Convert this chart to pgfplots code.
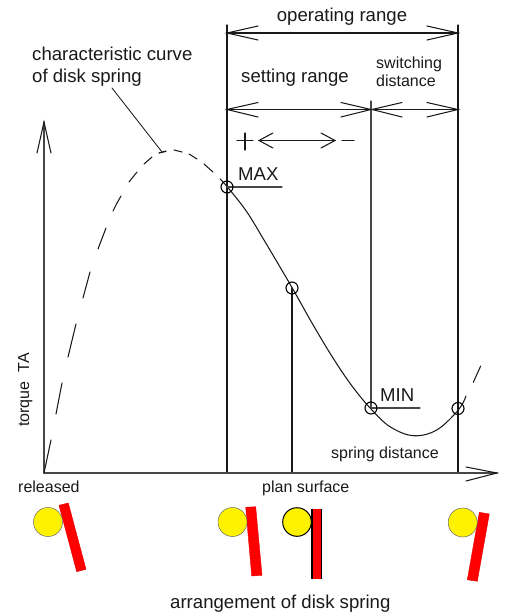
\documentclass[border=0pt]{standalone}
\usepackage{pgfplots}
\usepackage{fontspec}
\setmainfont{Liberation Sans}
\pgfplotsset{compat=1.18}
\newcommand{\bigt}{\fontsize{18.6}{20}\selectfont}
\newcommand{\smallt}{\fontsize{16}{18}\selectfont}
\begin{document}
\begin{tikzpicture}[x=1pt,y=1pt]
\useasboundingbox (0,0) rectangle (505,615);
\begin{axis}[
  at={(0,0)},anchor=south west,
  width=505pt,height=615pt,scale only axis,
  xmin=0,xmax=505,ymin=0,ymax=615,y dir=reverse,
  hide axis,clip=false,
  unbounded coords=jump,
  every axis plot/.append style={line cap=round,line join=miter},
  lin/.style={draw=black!90,line width=1.2pt,mark=none},
  thn/.style={draw=black!90,line width=1.05pt,mark=none},
  ax/.style={draw=black!72,line width=1.5pt,mark=none},
]
% vertical reference lines
\addplot[lin] coordinates {(227,25)(227,473)};
\addplot[lin] coordinates {(458,25)(458,473)};
\addplot[ax,line width=1.3pt] coordinates {(371,101)(371,408)};
\addplot[lin] coordinates {(292,288)(292,473)};
% dimension arrows
\addplot[lin] coordinates {(227,33)(458,33)};
\addplot[thn] coordinates {(258,26)(227,33)(258,40)};
\addplot[thn] coordinates {(427,26)(458,33)(427,40)};
\addplot[lin] coordinates {(227,109.5)(458,109.5)};
\addplot[thn] coordinates {(258,102.5)(227,109.5)(258,117)};
\addplot[thn] coordinates {(341,102.5)(371,109.5)(341,117)};
\addplot[thn] coordinates {(402,102.5)(372,109.5)(402,117)};
\addplot[thn] coordinates {(427,102.5)(458,109.5)(427,117)};
% plus / minus
\addplot[thn] coordinates {(237,140.5)(253,140.5)};
\addplot[thn] coordinates {(245,133)(245,150)};
\addplot[thn] coordinates {(259,140.5)(335,140.5)};
\addplot[thn] coordinates {(273,133)(259,140.5)(273,148)};
\addplot[thn] coordinates {(321,133)(335,140.5)(321,148)};
\addplot[thn] coordinates {(342,140.5)(354,140.5)};
% axes
\addplot[ax] coordinates {(44,473)(44,122)};
\addplot[thn] coordinates {(37,153)(44,122)(51,153)};
\addplot[ax] coordinates {(44,473)(497,473)};
\addplot[thn] coordinates {(466,467)(497,473)(466,481)};
% dashed curve
\addplot[thn] coordinates {
 (44,473)(51,440) (nan,nan)
 (56,414)(62,383) (nan,nan)
 (68,357)(76,324) (nan,nan)
 (83,298)(90,272) (nan,nan)
 (98,249)(106,228) (nan,nan)
 (113,211)(116.5,204)(121,196) (nan,nan)
 (129,182)(137,172) (nan,nan)
 (144,164)(152,157) (nan,nan)
 (159,153)(166,151) (nan,nan)
 (174,150)(182,152) (nan,nan)
 (189,154)(197,159) (nan,nan)
 (204,164)(213,172) (nan,nan)
 (473.3,382.3)(480.7,366)};
% solid curve
\addplot[thn,smooth,tension=0.6] coordinates {
 (220,179)(227.7,187.3)(246.7,211.7)(265,241.7)(291.7,287)(312,323)(333,358)(352,386)(371,409)(390,426.7)(413.3,435.7)(436.7,430)(458.3,410)(466,396)};
% leader
\addplot[thn,line width=0.85pt] coordinates {(112,88)(162,152)};
\addplot[thn,line width=0.85pt] coordinates {(159,153)(166,151.5)};
% MAX, MIN underlines
\addplot[ax,line width=1.2pt] coordinates {(227,187)(282,187)};
\addplot[ax,line width=1.2pt] coordinates {(371,408)(420,408)};
% points
\addplot[only marks,mark=o,mark size=6,mark options={draw=black,line width=1.1pt,fill=none}] coordinates {(227,187)(292,288)(371,408)(458,408.5)};
% disk springs
\addplot[fill=red,draw=red!90!black,line width=0.4pt,mark=none] coordinates {(59,505.3)(68.3,503)(86,569.3)(76.7,571.7)} -- cycle;
\addplot[fill=red,draw=red!90!black,line width=0.4pt,mark=none] coordinates {(245.7,507.3)(255.7,506.7)(262,575.3)(251.7,576)} -- cycle;
\addplot[fill=red,draw=none,mark=none] coordinates {(311.3,509)(322,509)(322,578.7)(311.3,578.7)} -- cycle;
\addplot[draw=black,line width=1.2pt,mark=none,line cap=butt] coordinates {(312,509)(312,578.7)};
\addplot[draw=black,line width=1.2pt,mark=none,line cap=butt] coordinates {(321.5,509)(321.5,578.7)};
\addplot[fill=red,draw=red!90!black,line width=0.4pt,mark=none] coordinates {(479.3,512.3)(489.3,514)(477.3,581.3)(467.3,579.7)} -- cycle;
% yellow balls
\addplot[only marks,mark=*,mark size=14.5,mark options={fill=yellow,draw=black!60,line width=0.5pt}] coordinates {(48,522)(232.5,522)(462.7,522.5)};
\addplot[only marks,mark=*,mark size=14.3,mark options={fill=yellow,draw=black,line width=1pt}] coordinates {(297,522)};
% texts
\node[anchor=base,inner sep=0pt,text=black!90] at (axis cs:342,22) {\bigt operating range};
\node[anchor=base west,inner sep=0pt,text=black!90] at (axis cs:32,61) {\bigt characteristic curve};
\node[anchor=base west,inner sep=0pt,text=black!90] at (axis cs:32,83) {\bigt of disk spring};
\node[anchor=base west,inner sep=0pt,text=black!90] at (axis cs:241,83) {\bigt setting range};
\node[anchor=base west,inner sep=0pt,text=black!90] at (axis cs:376,69) {\smallt switching};
\node[anchor=base west,inner sep=0pt,text=black!90] at (axis cs:376,87) {\smallt distance};
\node[anchor=base west,inner sep=0pt,text=black!90] at (axis cs:238,180) {\bigt MAX};
\node[anchor=base west,inner sep=0pt,text=black!90] at (axis cs:380,401) {\bigt MIN};
\node[anchor=base west,inner sep=0pt,text=black!90] at (axis cs:331,458) {\smallt spring distance};
\node[anchor=base west,inner sep=0pt,text=black!90] at (axis cs:18,492) {\smallt released};
\node[anchor=base west,inner sep=0pt,text=black!90] at (axis cs:262,492) {\smallt plan surface};
\node[anchor=base west,inner sep=0pt,text=black!90] at (axis cs:170,608) {\bigt arrangement of disk spring};
\node[anchor=base west,inner sep=0pt,rotate=90,text=black!90] at (axis cs:29,427) {\smallt torque\ \ TA};
\end{axis}
\end{tikzpicture}
\end{document}
